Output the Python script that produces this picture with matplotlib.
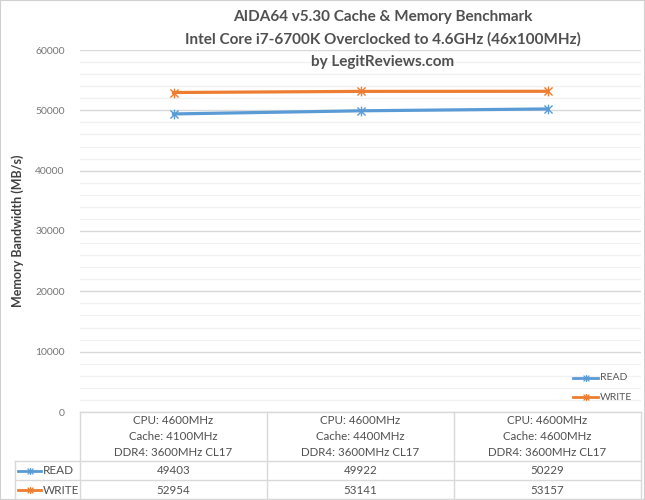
import matplotlib
matplotlib.use("Agg")
import matplotlib.pyplot as plt
from matplotlib.ticker import MultipleLocator
from matplotlib.lines import Line2D
from matplotlib.path import Path
import matplotlib.transforms as mtransforms

categories = [
    "CPU: 4600MHz\nCache: 4100MHz\nDDR4: 3600MHz CL17",
    "CPU: 4600MHz\nCache: 4400MHz\nDDR4: 3600MHz CL17",
    "CPU: 4600MHz\nCache: 4600MHz\nDDR4: 3600MHz CL17",
]
read_vals = [49403, 49922, 50229]
write_vals = [52954, 53141, 53157]
series_names = ["READ", "WRITE"]
title_lines = [
    "AIDA64 v5.30 Cache & Memory Benchmark",
    "Intel Core i7-6700K Overclocked to 4.6GHz (46x100MHz)",
    "by LegitReviews.com",
]
ylabel = "Memory Bandwidth (MB/s)"

FONT = ["Lato", "DejaVu Sans"]
plt.rcParams["font.family"] = FONT
TXT = "#595959"
C_READ = "#5B9BD5"
C_WRITE = "#ED7D31"

W, H = 645, 500
fig = plt.figure(figsize=(W / 100, H / 100), dpi=100)
fig.patch.set_facecolor("white")

def fx(px):
    return px / W

def fy(py):
    return 1 - py / H

# Excel-like star marker: an x plus a vertical bar
star = Path(
    [(-1, -1), (1, 1), (-1, 1), (1, -1), (0, -1.2), (0, 1.2)],
    [Path.MOVETO, Path.LINETO, Path.MOVETO, Path.LINETO, Path.MOVETO, Path.LINETO],
)

left, right, top, bottom = 80, 641, 50, 412
ax = fig.add_axes([fx(left), fy(bottom), fx(right) - fx(left), fy(top) - fy(bottom)])

x = list(range(len(categories)))
ax.plot(x, read_vals, color=C_READ, lw=2.3, marker=star, ms=7, mew=1.0, zorder=3)
ax.plot(x, write_vals, color=C_WRITE, lw=2.3, marker=star, ms=7, mew=1.0, zorder=3)

ax.set_xlim(-0.5, len(categories) - 0.5)
ax.set_ylim(0, 60000)
ax.yaxis.set_major_locator(MultipleLocator(10000))
ax.yaxis.set_minor_locator(MultipleLocator(2000))
ax.grid(which="major", axis="y", color="#D9D9D9", lw=1.0)
ax.grid(which="minor", axis="y", color="#F0F0F0", lw=1.0)
ax.set_axisbelow(True)
for s in ax.spines.values():
    s.set_visible(False)
ax.tick_params(axis="y", which="both", length=0, labelsize=7.5, labelcolor="#767676", pad=11)
ax.tick_params(axis="x", which="both", length=0, labelbottom=False)
ax.set_xticks(x)

# y label
fig.text(fx(18), fy(231), ylabel, rotation=90, ha="center", va="center",
         fontsize=9, fontweight="bold", color="#404040")

# title
for i, t in enumerate(title_lines):
    fig.text(fx(383), fy(17 + 22.5 * i), t, ha="center", va="center",
             fontsize=11, fontweight="bold", color="#505050")

# data table
trans = mtransforms.blended_transform_factory(ax.transData, fig.transFigure)
grid_c = "#D9D9D9"
table_left_px = 15
row_lines = [461, 480, 499]
edges = [i - 0.5 for i in range(len(categories) + 1)]
fig.add_artist(Line2D([fx(left), fx(right)], [fy(bottom), fy(bottom)], color=grid_c, lw=1.0))
for r in row_lines:
    fig.add_artist(Line2D([fx(table_left_px), fx(right)], [fy(r), fy(r)], color=grid_c, lw=1.0))
for e in edges:
    fig.add_artist(Line2D([e, e], [fy(bottom), fy(499)], color=grid_c, lw=1.0, transform=trans))
fig.add_artist(Line2D([fx(table_left_px), fx(table_left_px)], [fy(461), fy(499)], color=grid_c, lw=1.0))

for i, cat in enumerate(categories):
    for j, line in enumerate(cat.split("\n")):
        fig.text(i, fy(421 + 15.5 * j), line, transform=trans, ha="center", va="center",
                 fontsize=8.3, color="#505050")
row_y = [471, 490]
for vals, yy in zip([read_vals, write_vals], row_y):
    for i, v in enumerate(vals):
        fig.text(i, fy(yy), str(v), transform=trans, ha="center", va="center",
                 fontsize=8.3, color="#505050")
for name, col, yy in zip(series_names, [C_READ, C_WRITE], row_y):
    fig.add_artist(Line2D([fx(18), fx(41)], [fy(yy), fy(yy)], color=col, lw=2.0))
    fig.add_artist(Line2D([fx(29.5)], [fy(yy)], color=col, marker=star, ms=5, mew=0.9, lw=0))
    fig.text(fx(43), fy(yy), name, ha="left", va="center", fontsize=8.5, color="#505050")

# legend
leg_y = [378, 397]
for name, col, yy in zip(series_names, [C_READ, C_WRITE], leg_y):
    fig.add_artist(Line2D([fx(573), fx(598)], [fy(yy), fy(yy)], color=col, lw=2.0))
    fig.add_artist(Line2D([fx(585.5)], [fy(yy)], color=col, marker=star, ms=5, mew=0.9, lw=0))
    fig.text(fx(600), fy(yy), name, ha="left", va="center", fontsize=7.5, color=TXT)

# figure border
fig.add_artist(plt.Rectangle((0, 0), 1, 1, transform=fig.transFigure, fill=False,
                             edgecolor="#D0D0D0", lw=1.5))

fig.savefig("out.png", dpi=100)
